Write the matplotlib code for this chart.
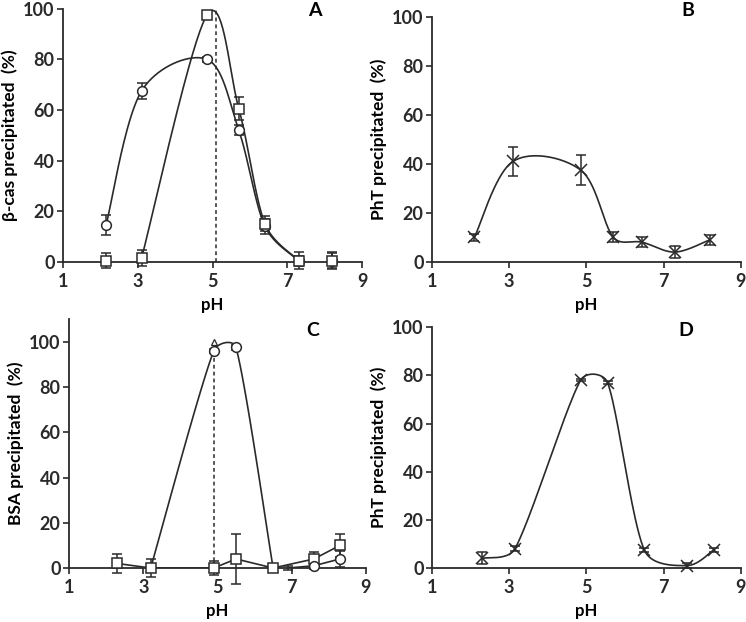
import matplotlib
matplotlib.use("Agg")
import matplotlib.pyplot as plt
import numpy as np

plt.rcParams['font.family'] = ['Lato', 'DejaVu Sans']
plt.rcParams['font.weight'] = 'bold'

# -- Panel A: beta-casein --
a_ph = [2.15, 3.1, 4.85, 5.7, 6.4, 7.3, 8.2]
a_circ = [14.5, 67.5, 80, 52, 14, 0.5, 0.5]
a_circ_err = [4, 3, 1, 2, 3, 3.5, 3.5]
a_sq = [0.5, 1.5, 97.5, 60.5, 15, 0.5, 0.5]
a_sq_err = [3, 3, 1, 4.5, 3, 2, 3]
a_pi = 5.1

# -- Panel B: PhT with beta-casein --
b_ph = [2.1, 3.1, 4.85, 5.7, 6.45, 7.3, 8.2]
b_pht = [10, 41, 37.5, 10, 8, 4, 9]
b_err = [1.5, 6, 6, 2, 2, 2.5, 2]

# -- Panel C: BSA --
c_ph_sq = [2.3, 3.2, 4.9, 5.5, 6.5, 7.6, 8.3]
c_sq = [2, 0, 0, 4, 0, 4, 10]
c_sq_err = [4, 4, 3, 11, 0, 3, 5]
c_ph_circ = [3.2, 4.9, 5.5, 6.5]
c_circ = [0, 96, 97.5, 0]
c_ph_circ2 = [6.9, 7.6, 8.3]
c_circ2 = [0, 1, 4]
c_circ2_err = [1, 1.5, 3.5]
c_tri = 100
c_pi = 4.9

# -- Panel D: PhT with BSA --
d_ph = [2.3, 3.15, 4.85, 5.55, 6.5, 7.6, 8.3]
d_pht = [4, 8, 78, 77, 7.5, 1, 7.5]
d_err = [2.5, 1, 0.5, 0.5, 1, 1, 1]

INK = '#2a2a2a'


# -- smoothed line through the points: catmull-rom bezier, handles capped --
def smooth(x, y, n=40, px=(37.5, 2.5), cap=0.4):
    sc = np.array(px)
    pts = np.column_stack([x, y]).astype(float) * sc
    out = []
    for i in range(len(pts) - 1):
        p0 = pts[i - 1] if i > 0 else pts[i]
        p1 = pts[i]
        p2 = pts[i + 1]
        p3 = pts[i + 2] if i + 2 < len(pts) else pts[i + 1]
        d = np.linalg.norm(p2 - p1)
        t1 = (p2 - p0) / 6
        t2 = (p3 - p1) / 6
        if np.linalg.norm(t1) > d * cap:
            t1 = t1 / np.linalg.norm(t1) * d * cap
        if np.linalg.norm(t2) > d * cap:
            t2 = t2 / np.linalg.norm(t2) * d * cap
        c1 = p1 + t1
        c2 = p2 - t2
        t = np.linspace(0, 1, n)[:, None]
        seg = (1 - t)**3 * p1 + 3 * (1 - t)**2 * t * c1 + 3 * (1 - t) * t**2 * c2 + t**3 * p2
        out.append(seg)
    s = np.vstack(out) / sc
    return s[:, 0], s[:, 1]


def style(ax, ylab, top):
    ax.set_xlim(1, 9)
    ax.set_ylim(0, top)
    ax.set_xticks([1, 3, 5, 7, 9])
    ax.set_yticks([0, 20, 40, 60, 80, 100])
    for s in ['top', 'right']:
        ax.spines[s].set_visible(False)
    for s in ['left', 'bottom']:
        ax.spines[s].set_linewidth(1.3)
        ax.spines[s].set_color(INK)
    ax.tick_params(direction='out', length=4.5, width=1.2, colors=INK, labelsize=13)
    ax.tick_params(axis='y', pad=1.5)
    ax.set_xlabel('pH', fontsize=12, fontweight='bold', labelpad=5)
    ax.set_ylabel(ylab, fontsize=12.5, fontweight='bold', labelpad=4)


def ebar(ax, x, y, err, marker, ms=7):
    ax.errorbar(x, y, yerr=err, fmt=marker, ms=ms, mfc='white', mec=INK, mew=1.1,
                ecolor=INK, elinewidth=1.1, capsize=3.5, capthick=1.1, zorder=3,
                clip_on=False)


W, H = 746, 622
fig = plt.figure(figsize=(W / 100, H / 100), dpi=100)
axA = fig.add_axes([0.0845, 0.579, 0.401, 0.407])
axB = fig.add_axes([0.579, 0.579, 0.414, 0.394])
axC = fig.add_axes([0.0925, 0.0868, 0.398, 0.400])
axD = fig.add_axes([0.579, 0.0868, 0.414, 0.387])

# A
sx, sy = smooth(a_ph[:6], a_circ[:6])
axA.plot(sx, sy, color=INK, lw=1.2)
sx, sy = smooth(a_ph[1:6], a_sq[1:6])
axA.plot(sx, sy, color=INK, lw=1.2)
axA.plot([a_pi, a_pi], [0, 100], color=INK, lw=1.1, ls=(0, (2.5, 2)))
ebar(axA, a_ph, a_circ, a_circ_err, 'o')
ebar(axA, a_ph, a_sq, a_sq_err, 's')
style(axA, 'β-cas precipitated  (%)', 100)

# B
sx, sy = smooth(b_ph, b_pht)
axB.plot(sx, sy, color=INK, lw=1.2)
ebar(axB, b_ph, b_pht, b_err, 'x', ms=8)
style(axB, 'PhT precipitated  (%)', 100)

# C
sx, sy = smooth(c_ph_circ, c_circ, px=(37.5, 2.26))
axC.plot(sx, sy, color=INK, lw=1.2)
axC.plot(c_ph_sq, c_sq, color=INK, lw=1.2)
axC.plot(c_ph_circ2, c_circ2, color=INK, lw=1.2)
axC.plot([c_pi, c_pi], [0, c_tri], color=INK, lw=1.1, ls=(0, (2.5, 2)))
ebar(axC, c_ph_sq, c_sq, c_sq_err, 's')
ebar(axC, c_ph_circ2[1:], c_circ2[1:], c_circ2_err[1:], 'o')
ebar(axC, c_ph_circ2[:1], c_circ2[:1], c_circ2_err[:1], 'none')
ebar(axC, c_ph_circ[1:3], c_circ[1:3], [1, 1], 'o')
axC.plot([c_pi], [c_tri], marker='^', ms=5, mfc='white', mec=INK, mew=0.9, zorder=4)
style(axC, 'BSA precipitated  (%)', 110)

# D
sx, sy = smooth(d_ph, d_pht, px=(37.5, 2.4))
axD.plot(sx, sy, color=INK, lw=1.2)
ebar(axD, d_ph, d_pht, d_err, 'x', ms=8)
style(axD, 'PhT precipitated  (%)', 100)

# -- panel letters --
for letter, (px_, py_) in zip('ABCD', [(315, 10), (688, 10), (313, 330), (686, 330)]):
    fig.text(px_ / W, 1 - py_ / H, letter, fontsize=14, fontweight='bold',
             ha='center', va='center')

fig.savefig('out.png', dpi=100)
